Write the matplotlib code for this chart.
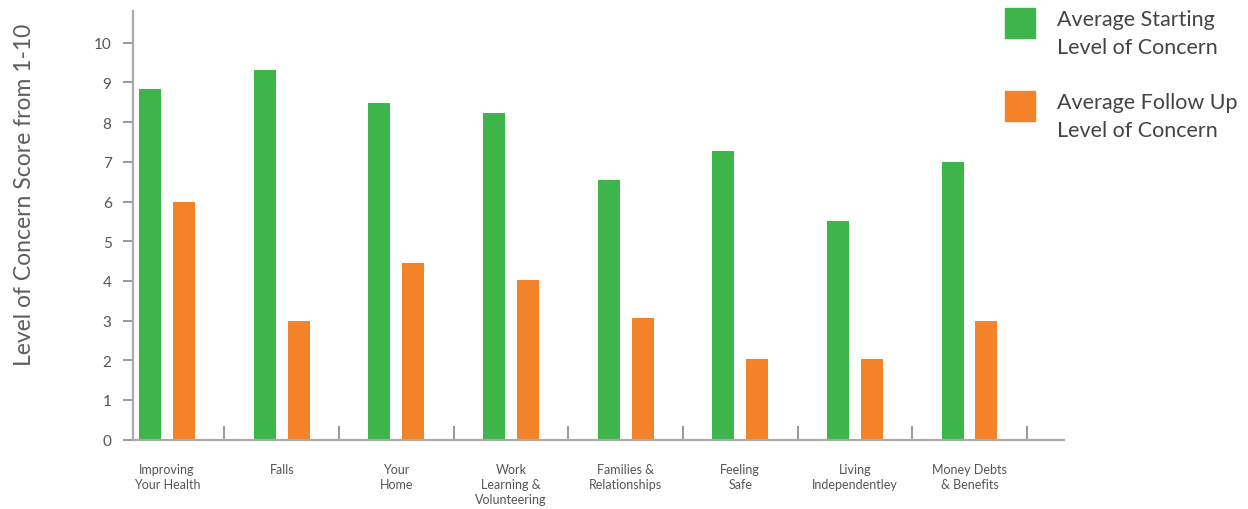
import numpy as np
import matplotlib.pyplot as plt
from matplotlib.patches import Rectangle

categories = ["Improving\nYour Health", "Falls", "Your\nHome", "Work\nLearning &\nVolunteering",
              "Families &\nRelationships", "Feeling\nSafe", "Living\nIndependentley",
              "Money Debts\n& Benefits"]
starting = [8.83, 9.31, 8.48, 8.22, 6.53, 7.27, 5.52, 7.0]
follow_up = [6.0, 3.0, 4.46, 4.03, 3.07, 2.03, 2.03, 3.0]
series_labels = ["Average Starting\nLevel of Concern", "Average Follow Up\nLevel of Concern"]
y_ticks = list(range(0, 11))

GREEN = "#3db54a"
ORANGE = "#f38228"
TEXT = "#555555"
AXIS = "#aaaaaa"

plt.rcParams['font.family'] = ['Lato', 'DejaVu Sans']

fig = plt.figure(figsize=(12.48, 5.10), dpi=100)
ax = fig.add_axes([0.1066, 0.1359, 0.746, 0.8406])

x = np.arange(len(categories))
w = 0.192
off = 0.148
ax.bar(x - off, starting, width=w, color=GREEN, zorder=2)
ax.bar(x + off, follow_up, width=w, color=ORANGE, zorder=2)

ax.set_xlim(-0.297, 7.825)
ax.set_ylim(0, 10.8)

for s in ["top", "right"]:
    ax.spines[s].set_visible(False)
for s in ["left", "bottom"]:
    ax.spines[s].set_color(AXIS)
    ax.spines[s].set_linewidth(1.6)

ax.set_yticks(y_ticks)
ax.set_yticklabels([str(t) for t in y_ticks])
ax.tick_params(axis="y", direction="out", length=7.5, width=1.2, color="#888888",
               labelsize=11, labelcolor=TEXT, pad=8)

ax.set_xticks(x)
ax.set_xticklabels(categories, linespacing=1.3)
ax.tick_params(axis="x", which="major", length=0, labelsize=9, labelcolor=TEXT, pad=17)
ax.set_xticks(x + 0.5, minor=True)
ax.tick_params(axis="x", which="minor", direction="in", length=10, width=1.2, color="#888888")

fig.text(0.020, 0.618, "Level of Concern Score from 1-10", rotation=90, fontsize=16.5,
         color="#5e5e5e", ha="center", va="center")

# legend drawn by hand so the squares sit beside the first line of each label
colors = [GREEN, ORANGE]
for i, (lab, c) in enumerate(zip(series_labels, colors)):
    top = 9 + 83 * i
    fig.add_artist(Rectangle((1005 / 1248, 1 - (top + 30) / 510), 30 / 1248, 30 / 510,
                             transform=fig.transFigure, color=c))
    fig.text(1057 / 1248, 1 - (top + 1) / 510, lab, fontsize=15.5, color="#444444",
             ha="left", va="top", linespacing=1.5)

fig.savefig("out.png", dpi=100)
